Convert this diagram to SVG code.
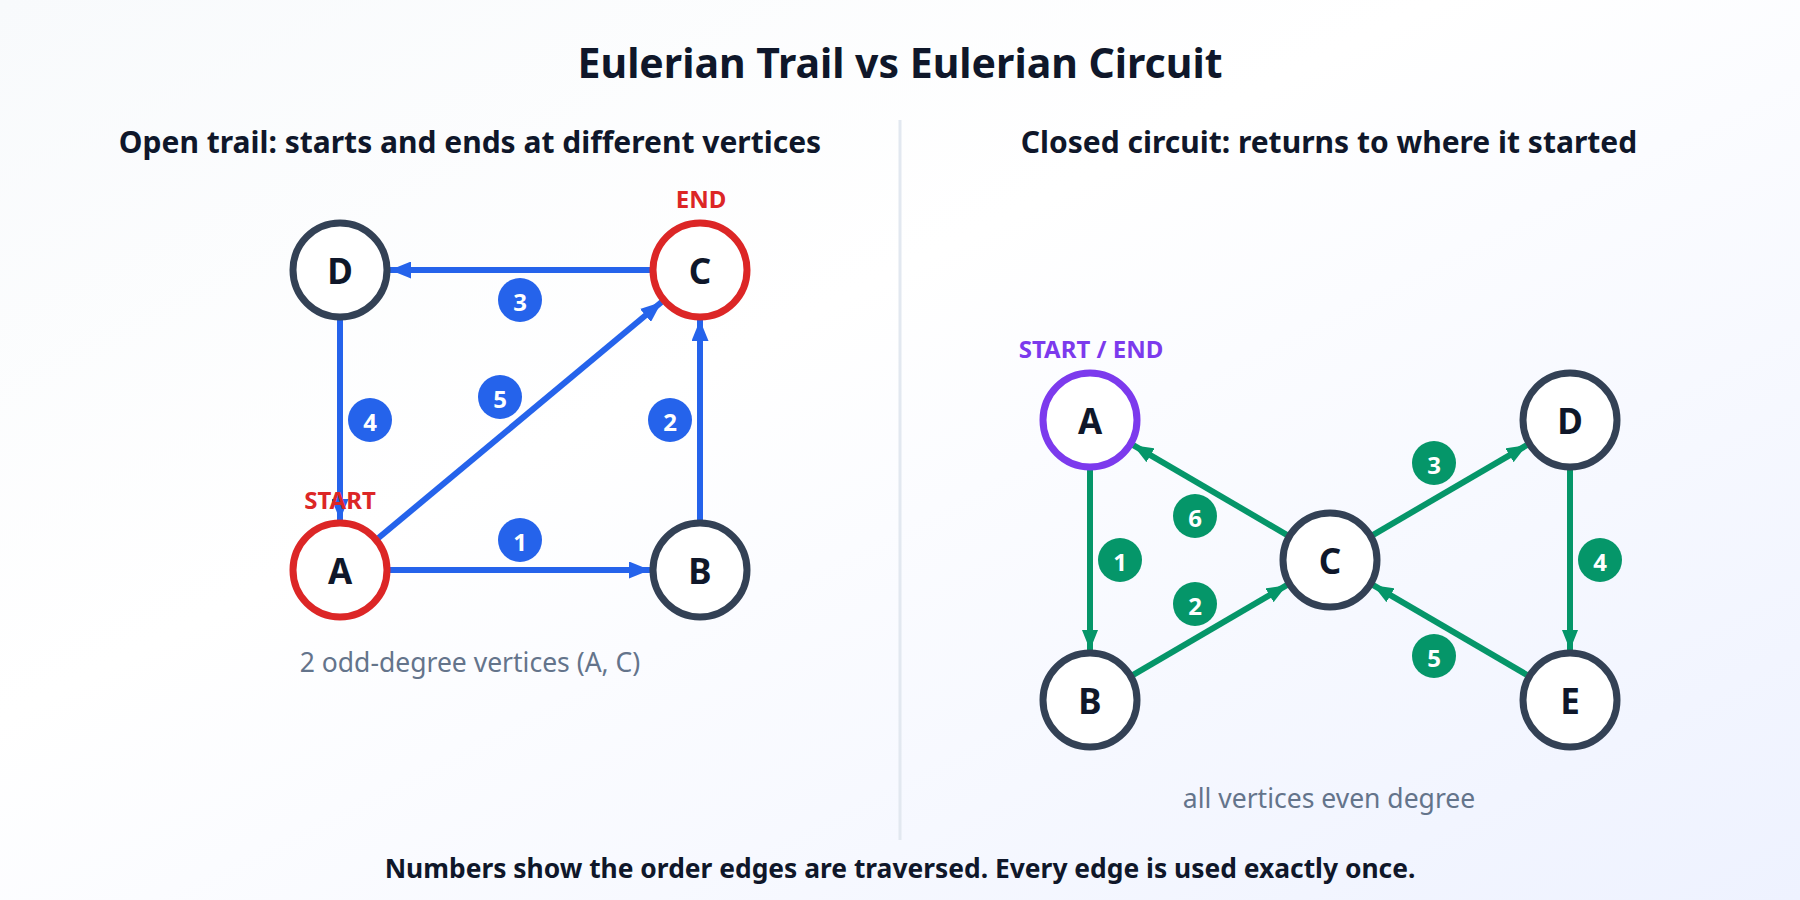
<svg xmlns="http://www.w3.org/2000/svg" width="1800" height="900" viewBox="0 0 1800 900">
<defs>
<linearGradient id="bg" x1="0" y1="0" x2="1" y2="1">
<stop offset="0" stop-color="#f8fafc"/>
<stop offset="0.4" stop-color="#ffffff"/>
<stop offset="1" stop-color="#eef2ff"/>
</linearGradient>
<marker id="ab" markerUnits="userSpaceOnUse" markerWidth="21" markerHeight="17" refX="21" refY="8.5" orient="auto">
<path d="M0,0 L21,8.5 L0,17 z" fill="#2563eb"/>
</marker>
<marker id="ag" markerUnits="userSpaceOnUse" markerWidth="20" markerHeight="16" refX="20" refY="8" orient="auto">
<path d="M0,0 L20,8 L0,16 z" fill="#059669"/>
</marker>
<style>
text{font-family:"Noto Sans","Open Sans","Liberation Sans",sans-serif}
.title{font-size:41px;font-weight:700;fill:#0f172a;text-anchor:middle}
.sub{font-size:30px;font-weight:700;fill:#0f172a;text-anchor:middle}
.cap{font-size:26.5px;fill:#64748b;text-anchor:middle}
.foot{font-size:26.4px;font-weight:700;fill:#0f172a;text-anchor:middle}
.node{fill:#ffffff;stroke:#334155;stroke-width:7}
.red{stroke:#dc2626}
.purple{stroke:#7c3aed}
.lbl{font-size:35px;font-weight:700;fill:#0f172a;text-anchor:middle}
.tag{font-size:24px;font-weight:700;text-anchor:middle}
.eb{stroke:#2563eb;stroke-width:6;fill:none;marker-end:url(#ab)}
.eg{stroke:#059669;stroke-width:6;fill:none;marker-end:url(#ag)}
.bb{fill:#2563eb}
.bg2{fill:#059669}
.num{font-size:24px;font-weight:700;fill:#ffffff;text-anchor:middle}
</style>
</defs>
<rect width="1800" height="900" fill="url(#bg)"/>
<text class="title" x="900" y="78">Eulerian Trail vs Eulerian Circuit</text>
<text class="sub" x="470" y="153">Open trail: starts and ends at different vertices</text>
<text class="sub" x="1329" y="153">Closed circuit: returns to where it started</text>
<line x1="900" y1="120" x2="900" y2="840" stroke="#e2e8f0" stroke-width="3"/>

<g id="connectors">
<line class="eb" x1="390" y1="570" x2="650" y2="570"/>
<line class="eb" x1="700" y1="520" x2="700" y2="320"/>
<line class="eb" x1="650" y1="270" x2="390" y2="270"/>
<line class="eb" x1="340" y1="320" x2="340" y2="520"/>
<line class="eb" x1="378.4" y1="538" x2="661.6" y2="302"/>
<line class="eg" x1="1090" y1="470" x2="1090" y2="650"/>
<line class="eg" x1="1133.2" y1="674.8" x2="1286.8" y2="585.2"/>
<line class="eg" x1="1373.2" y1="534.8" x2="1526.8" y2="445.2"/>
<line class="eg" x1="1570" y1="470" x2="1570" y2="650"/>
<line class="eg" x1="1526.8" y1="674.8" x2="1373.2" y2="585.2"/>
<line class="eg" x1="1286.8" y1="534.8" x2="1133.2" y2="445.2"/>
</g>

<g id="badges-left">
<circle class="bb" cx="520" cy="540" r="22"/><text class="num" x="520" y="551">1</text>
<circle class="bb" cx="670" cy="420" r="22"/><text class="num" x="670" y="431">2</text>
<circle class="bb" cx="520" cy="300" r="22"/><text class="num" x="520" y="311">3</text>
<circle class="bb" cx="370" cy="420" r="22"/><text class="num" x="370" y="431">4</text>
<circle class="bb" cx="500" cy="397" r="22"/><text class="num" x="500" y="408">5</text>
</g>
<g id="badges-right">
<circle class="bg2" cx="1120" cy="560" r="22"/><text class="num" x="1120" y="571">1</text>
<circle class="bg2" cx="1195" cy="604" r="22"/><text class="num" x="1195" y="615">2</text>
<circle class="bg2" cx="1434" cy="463" r="22"/><text class="num" x="1434" y="474">3</text>
<circle class="bg2" cx="1600" cy="560" r="22"/><text class="num" x="1600" y="571">4</text>
<circle class="bg2" cx="1434" cy="656" r="22"/><text class="num" x="1434" y="667">5</text>
<circle class="bg2" cx="1195" cy="516" r="22"/><text class="num" x="1195" y="527">6</text>
</g>

<g id="L-D"><circle class="node" cx="340" cy="270" r="47"/><text class="lbl" x="340" y="284">D</text></g>
<g id="L-C"><circle class="node red" cx="700" cy="270" r="47"/><text class="lbl" x="700" y="284">C</text><text class="tag" x="701" y="208" fill="#dc2626">END</text></g>
<g id="L-A"><circle class="node red" cx="340" cy="570" r="47"/><text class="lbl" x="340" y="584">A</text><text class="tag" x="340" y="509" fill="#dc2626">START</text></g>
<g id="L-B"><circle class="node" cx="700" cy="570" r="47"/><text class="lbl" x="700" y="584">B</text></g>
<text class="cap" x="470" y="672">2 odd-degree vertices (A, C)</text>

<g id="R-A"><circle class="node purple" cx="1090" cy="420" r="47"/><text class="lbl" x="1090" y="434">A</text><text class="tag" x="1091" y="358" fill="#7c3aed">START / END</text></g>
<g id="R-D"><circle class="node" cx="1570" cy="420" r="47"/><text class="lbl" x="1570" y="434">D</text></g>
<g id="R-C"><circle class="node" cx="1330" cy="560" r="47"/><text class="lbl" x="1330" y="574">C</text></g>
<g id="R-B"><circle class="node" cx="1090" cy="700" r="47"/><text class="lbl" x="1090" y="714">B</text></g>
<g id="R-E"><circle class="node" cx="1570" cy="700" r="47"/><text class="lbl" x="1570" y="714">E</text></g>
<text class="cap" x="1329" y="808">all vertices even degree</text>

<text class="foot" x="900" y="878">Numbers show the order edges are traversed. Every edge is used exactly once.</text>
</svg>
